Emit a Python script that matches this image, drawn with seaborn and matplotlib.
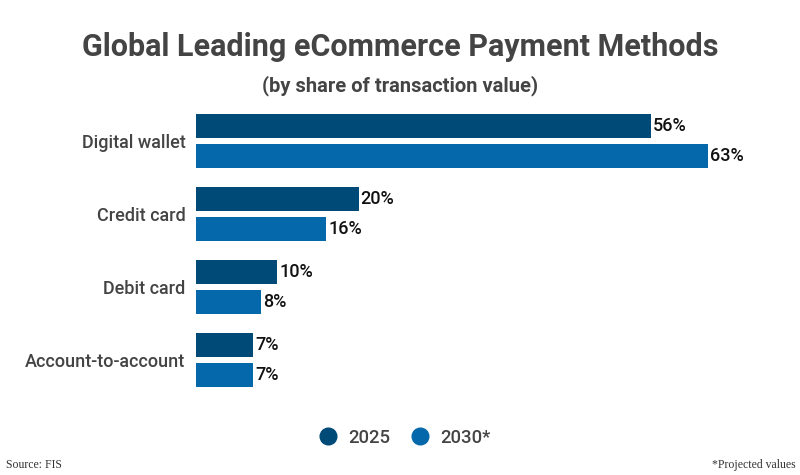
import matplotlib
matplotlib.use("Agg")
import matplotlib.pyplot as plt
import seaborn as sns
import pandas as pd
from matplotlib.lines import Line2D

categories = ["Digital wallet", "Credit card", "Debit card", "Account-to-account"]
series_names = ["2025", "2030*"]
values_2025 = [56, 20, 10, 7]
values_2030 = [63, 16, 8, 7]
colors = ["#004a78", "#0468aa"]

df = pd.DataFrame({
    "Method": categories * 2,
    "Year": [series_names[0]] * 4 + [series_names[1]] * 4,
    "Value": values_2025 + values_2030,
})

sns.set_theme(style="white")
plt.rcParams["font.family"] = ["Roboto", "DejaVu Sans"]

fig = plt.figure(figsize=(8, 4.75), dpi=100)
ax = fig.add_axes([0.245, 0.165, 0.711, 0.615])

sns.barplot(data=df, y="Method", x="Value", hue="Year", order=categories,
            hue_order=series_names, palette=colors, saturation=1, orient="h",
            width=0.81, gap=0.2, linewidth=0, ax=ax, legend=False)

for cont in ax.containers:
    ax.bar_label(cont, labels=[f"{v:.0f}%" for v in cont.datavalues], padding=1.5,
                 fontsize=13, fontweight="medium", color="#111111")

ax.set_xlim(0, 70)
ax.set_ylim(3.5, -0.5)
ax.set_xlabel("")
ax.set_ylabel("")
ax.set_xticks([])
ax.tick_params(axis="y", length=0, pad=7.5, labelsize=13, labelcolor="#444444")
for lbl in ax.get_yticklabels():
    lbl.set_fontweight("medium")
for s in ax.spines.values():
    s.set_visible(False)

fig.text(0.5, 0.9, "Global Leading eCommerce Payment Methods", ha="center", va="center",
         fontsize=22, fontweight="bold", color="#444444")
fig.text(0.5, 0.82, "(by share of transaction value)", ha="center", va="center",
         fontsize=14.5, fontweight="bold", color="#444444")

handles = [Line2D([0], [0], marker="o", linestyle="", markersize=12,
                  markerfacecolor=c, markeredgecolor=c) for c in colors]
fig.legend(handles, series_names, loc="center", bbox_to_anchor=(0.5, 0.078), ncol=2,
           frameon=False, labelcolor="#444444", handletextpad=0.1,
           columnspacing=0.6, prop={"weight": "medium", "size": 13.3})

fig.text(0.008, 0.022, "Source: FIS", ha="left", va="center", fontsize=8.5,
         family="Liberation Serif", color="#333333")
fig.text(0.994, 0.022, "*Projected values", ha="right", va="center", fontsize=8.5,
         family="Liberation Serif", color="#333333")

fig.savefig("out.png", dpi=100, facecolor="white")
